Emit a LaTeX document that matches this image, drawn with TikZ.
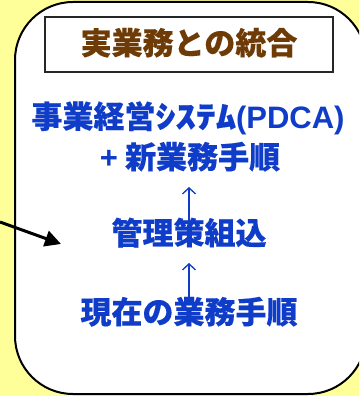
\documentclass[tikz,border=0pt]{standalone}
\usepackage{fontspec}
\newfontfamily\cjk{Noto Sans CJK JP}[BoldFeatures={FakeBold=0.3}]
\newfontfamily\lat{Liberation Sans}
\usetikzlibrary{arrows.meta}
\definecolor{bgyellow}{HTML}{FFFF99}
\definecolor{titlebrown}{HTML}{6E3A06}
\definecolor{txtblue}{HTML}{0F3CC8}
\tikzset{
  frame/.style={draw=black, line width=2pt, fill=white, rounded corners=58pt},
  titlebox/.style={draw=black!85, line width=1.5pt, fill=white},
  titletext/.style={font=\cjk\bfseries\fontsize{31}{31}\selectfont, text=titlebrown, anchor=base, inner sep=0pt},
  bluetext/.style={font=\cjk\bfseries\fontsize{31}{31}\selectfont, text=txtblue, anchor=base, inner sep=0pt},
  uparrow/.style={draw=txtblue, line width=1.3pt, -{Straight Barb[length=6pt,width=13pt]}},
  bigarrow/.style={draw=black, line width=3pt, -{Triangle[length=16pt,width=16pt]}}
}
\begin{document}
\begin{tikzpicture}[x=1pt,y=-1pt]
\useasboundingbox (0,0) rectangle (359,396);
\clip (0,0) rectangle (359,396);
\fill[bgyellow] (0,0) rectangle (359,396);
\draw[frame] (15,2) rectangle (366,394);
\draw[titlebox] (45,17) rectangle (333,72);
\node[titletext] (title) at (189,54.5) {実業務との統合};
\node[bluetext] (l1) at (188,128) {事業経営\scalebox{1.3}[1]{ｼｽﾃﾑ}{\lat\bfseries(PDCA)}};
\node[bluetext] (l2) at (190,168.5) {{\lat\bfseries+} 新業務手順};
\node[bluetext] (l3) at (189,244.5) {管理策組込};
\node[bluetext] (l4) at (189,323.5) {現在の業務手順};
\draw[uparrow] (l3.north) ++(0,5) coordinate (a1s) -- (189,187) coordinate (a1t);
\draw[uparrow] (l4.north) ++(0,5) coordinate (a2s) -- (189,263) coordinate (a2t);
\coordinate (ext) at (0,222);
\coordinate (tip) at (61,244);
\draw[bigarrow] (ext) -- (tip);
\end{tikzpicture}
\end{document}
